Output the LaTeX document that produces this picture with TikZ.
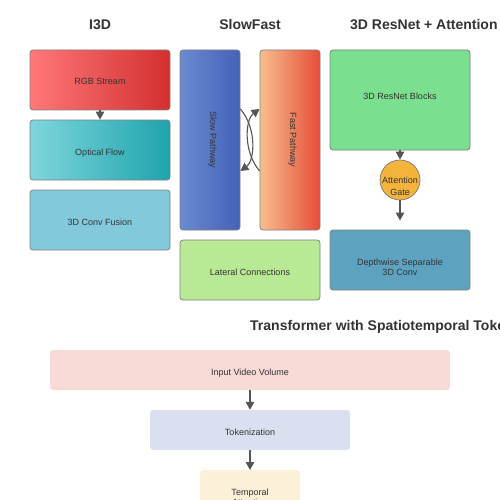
\documentclass[tikz,border=0pt]{standalone}
\usepackage{fontspec}
\setmainfont{Liberation Sans}
\usetikzlibrary{arrows.meta,calc}
\definecolor{edge}{HTML}{808080}
\definecolor{arrowc}{HTML}{555555}
\definecolor{txt}{HTML}{333333}
\definecolor{rgbL}{HTML}{FF7878}
\definecolor{rgbR}{HTML}{D32F2F}
\definecolor{optL}{HTML}{7ED6DC}
\definecolor{optR}{HTML}{1FA3AD}
\definecolor{fus}{HTML}{82CADB}
\definecolor{slowL}{HTML}{6A8BD0}
\definecolor{slowR}{HTML}{4461B8}
\definecolor{fastL}{HTML}{F7BE8D}
\definecolor{fastR}{HTML}{E54D38}
\definecolor{lat}{HTML}{B8E994}
\definecolor{res}{HTML}{7ADF8E}
\definecolor{gate}{HTML}{F4B43C}
\definecolor{dws}{HTML}{5DA3BF}
\definecolor{inp}{HTML}{F8DAD6}
\definecolor{tok}{HTML}{DAE0EF}
\definecolor{tmp}{HTML}{FDF0D8}
\begin{document}
\begin{tikzpicture}[x=1pt,y=-1pt,
  box/.style={draw=edge, line width=0.8pt, rounded corners=3pt, inner sep=0pt},
  flat/.style={rounded corners=3pt, inner sep=0pt},
  lbl/.style={text=txt, font=\fontsize{9}{11}\selectfont, inner sep=0pt, anchor=base},
  ttl/.style={font=\fontsize{14}{16}\selectfont\bfseries, text=txt, inner sep=0pt, anchor=base},
  arr/.style={draw=arrowc, line width=1.4pt, -{Triangle[width=8.5pt,length=8pt]}},
  carr/.style={draw=arrowc, line width=1.1pt, -{Triangle[width=8.5pt,length=8pt]}}]
\useasboundingbox (0,0) rectangle (500,500);
\fill[white] (0,0) rectangle (500,500);

% titles
\node[ttl] (t1) at (100,30) {I3D};
\node[ttl] (t2) at (250,30) {SlowFast};
\node[ttl, anchor=base west] (t3) at (350,30) {3D ResNet + Attention};
\node[ttl, anchor=base west] (t4) at (250,330) {Transformer with Spatiotemporal Tokens};

% I3D
\node[box, minimum width=140pt, minimum height=60pt, left color=rgbL, right color=rgbR] (rgb) at (100,80) {};
\node[lbl] (rgbt) at (100,85) {RGB Stream};
\node[box, minimum width=140pt, minimum height=60pt, left color=optL, right color=optR] (opt) at (100,150) {};
\node[lbl] (optt) at (100,155) {Optical Flow};
\node[box, minimum width=140pt, minimum height=60pt, fill=fus] (fus) at (100,220) {};
\node[lbl] (fust) at (100,225) {3D Conv Fusion};
\draw[arr] (rgb.south) -- (opt.north);

% SlowFast
\node[box, minimum width=60pt, minimum height=180pt, left color=slowL, right color=slowR] (slow) at (210,140) {};
\node[lbl, rotate=-90] (slowt) at (210,140) {Slow Pathway};
\node[box, minimum width=60pt, minimum height=180pt, left color=fastL, right color=fastR] (fast) at (290,140) {};
\node[lbl, rotate=-90] (fastt) at (290,140) {Fast Pathway};
\node[box, minimum width=140pt, minimum height=60pt, fill=lat] (lat) at (250,270) {};
\node[lbl] (latt) at (250,275) {Lateral Connections};
\draw[carr] ([yshift=31pt]slow.east) .. controls +(17,20) and +(14,-10) .. ([yshift=-31pt]slow.east);
\draw[carr] ([yshift=-31pt]fast.west) .. controls +(-17,-20) and +(-14,10) .. ([yshift=31pt]fast.west);

% 3D ResNet + Attention
\node[box, minimum width=140pt, minimum height=100pt, fill=res] (res) at (400,100) {};
\node[lbl] (rest) at (400,99.5) {3D ResNet Blocks};
\node[box, circle, minimum size=40pt, fill=gate, rounded corners=0pt] (gate) at (400,180) {};
\node[lbl] (gatet1) at (400,183.5) {Attention};
\node[lbl] (gatet2) at (400,195.5) {Gate};
\node[box, minimum width=140pt, minimum height=60pt, fill=dws] (dws) at (400,260) {};
\node[lbl] (dwst1) at (400,265) {Depthwise Separable};
\node[lbl] (dwst2) at (400,275) {3D Conv};
\coordinate (gend) at (400,220.5);
\draw[arr] (res.south) -- (gate.north);
\draw[arr] (gate.south) -- (gend);

% Transformer
\node[flat, minimum width=400pt, minimum height=40pt, fill=inp] (inp) at (250,370) {};
\node[lbl] (inpt) at (250,375) {Input Video Volume};
\node[flat, minimum width=200pt, minimum height=40pt, fill=tok] (tok) at (250,430) {};
\node[lbl] (tokt) at (250,435) {Tokenization};
\node[flat, minimum width=100pt, minimum height=50pt, fill=tmp, anchor=north] (tmp) at (250,470) {};
\node[lbl] (tmpt1) at (250,495.5) {Temporal};
\node[lbl] (tmpt2) at (250,505) {Attention};
\draw[arr] (inp.south) -- (tok.north);
\draw[arr] (tok.south) -- (tmp.north);
\end{tikzpicture}
\end{document}
